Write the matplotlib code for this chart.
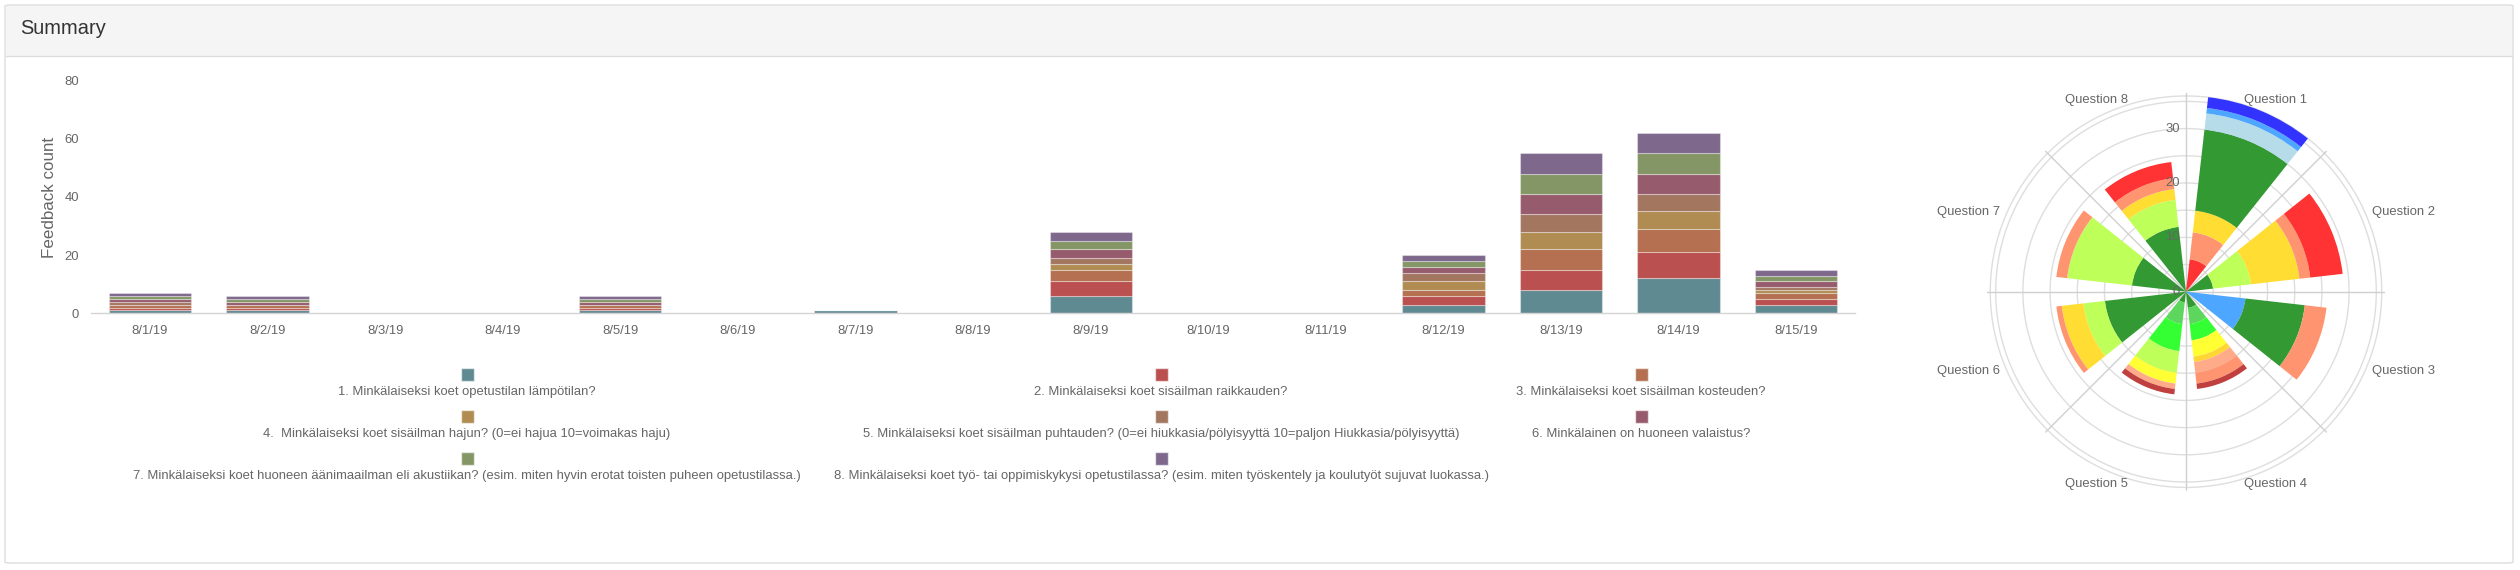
import matplotlib
matplotlib.use('Agg')
import matplotlib.pyplot as plt
import matplotlib.transforms as mtransforms
from matplotlib.patches import Rectangle, FancyBboxPatch
from matplotlib.lines import Line2D
import numpy as np

plt.rcParams['font.family'] = ['Liberation Sans', 'DejaVu Sans']

W, H, DPI = 2520, 570, 100

# ---------------- data ----------------
days = ['8/1/19', '8/2/19', '8/3/19', '8/4/19', '8/5/19', '8/6/19', '8/7/19', '8/8/19',
        '8/9/19', '8/10/19', '8/11/19', '8/12/19', '8/13/19', '8/14/19', '8/15/19']

q1 = [1, 1, 0, 0, 1, 0, 1, 0, 6, 0, 0, 3, 8, 12, 3]
q2 = [1, 1, 0, 0, 1, 0, 0, 0, 5, 0, 0, 3, 7, 9, 2]
q3 = [1, 1, 0, 0, 1, 0, 0, 0, 4, 0, 0, 2, 7, 8, 2]
q4 = [0, 0, 0, 0, 0, 0, 0, 0, 2, 0, 0, 3, 6, 6, 1]
q5 = [1, 0, 0, 0, 0, 0, 0, 0, 2, 0, 0, 3, 6, 6, 1]
q6 = [1, 1, 0, 0, 1, 0, 0, 0, 3, 0, 0, 2, 7, 7, 2]
q7 = [1, 1, 0, 0, 1, 0, 0, 0, 3, 0, 0, 2, 7, 7, 2]
q8 = [1, 1, 0, 0, 1, 0, 0, 0, 3, 0, 0, 2, 7, 7, 2]

legend_labels = [
    '1. Minkälaiseksi koet opetustilan lämpötilan?',
    '2. Minkälaiseksi koet sisäilman raikkauden?',
    '3. Minkälaiseksi koet sisäilman kosteuden?',
    '4.  Minkälaiseksi koet sisäilman hajun? (0=ei hajua 10=voimakas haju)',
    '5. Minkälaiseksi koet sisäilman puhtauden? (0=ei hiukkasia/pölyisyyttä 10=paljon Hiukkasia/pölyisyyttä)',
    '6. Minkälainen on huoneen valaistus?',
    '7. Minkälaiseksi koet huoneen äänimaailman eli akustiikan? (esim. miten hyvin erotat toisten puheen opetustilassa.)',
    '8. Minkälaiseksi koet työ- tai oppimiskykysi opetustilassa? (esim. miten työskentely ja koulutyöt sujuvat luokassa.)',
]

polar_labels = ['Question 1', 'Question 2', 'Question 3', 'Question 4',
                'Question 5', 'Question 6', 'Question 7', 'Question 8']

# answer counts per question, stacked from the centre outwards
p1 = [6, 5, 4, 15, 3, 1, 2]
p2 = [5, 7, 9, 2, 6]
p3 = [11, 11, 4]
p4 = [3, 3, 3, 3, 1, 2, 2, 1]
p5 = [2, 4, 5, 4, 2, 1, 1]
p6 = [15, 4, 4, 1]
p7 = [10, 12, 2]
p8 = [12, 5, 2, 2, 3]

radial_ticks = [0, 10, 20, 30]

# ---------------- styles ----------------
bar_colors = ['#608a92', '#ba5050', '#b47050', '#b08c52',
              '#a37660', '#965c6e', '#849666', '#7e688c']

C = {
    'red': '#ff3333', 'salmon': '#ff9470', 'gold': '#ffdd33', 'dgreen': '#339933',
    'lblue': '#b6dbe9', 'mblue': '#4da6ff', 'dblue': '#3333ff', 'lgreen': '#bfff59',
    'mgreen': '#5cd65c', 'bgreen': '#33ff33', 'yellow': '#ffff33', 'gold2': '#ffd633',
    'lsalmon': '#ffaa88', 'dred': '#c04040',
}
pc1 = ['red', 'salmon', 'gold', 'dgreen', 'lblue', 'mblue', 'dblue']
pc2 = ['dgreen', 'lgreen', 'gold', 'salmon', 'red']
pc3 = ['mblue', 'dgreen', 'salmon']
pc4 = ['dgreen', 'mgreen', 'bgreen', 'yellow', 'gold2', 'lsalmon', 'salmon', 'dred']
pc5 = ['dgreen', 'mgreen', 'bgreen', 'lgreen', 'yellow', 'lsalmon', 'dred']
pc6 = ['dgreen', 'lgreen', 'gold', 'salmon']
pc7 = ['dgreen', 'lgreen', 'salmon']
pc8 = ['dgreen', 'lgreen', 'gold', 'salmon', 'red']

TXT = '#666666'
PX = 72.0 / DPI  # points per pixel


def fx(x):
    return x / W


def fy(y):
    return 1 - y / H


fig = plt.figure(figsize=(W / DPI, H / DPI), dpi=DPI, facecolor='white')

# ---------------- panel frame ----------------
panel = FancyBboxPatch((fx(5), fy(563)), fx(2508), (563 - 5) / H,
                       boxstyle='round,pad=0,rounding_size=0.002',
                       transform=fig.transFigure, facecolor='white',
                       edgecolor='#dddddd', linewidth=1, zorder=0)
fig.add_artist(panel)
fig.add_artist(Rectangle((fx(6), fy(56)), fx(2506), (56 - 6) / H,
                         transform=fig.transFigure, facecolor='#f5f5f5',
                         edgecolor='none', zorder=0.5))
fig.add_artist(Line2D([fx(6), fx(2512)], [fy(56), fy(56)],
                      transform=fig.transFigure, color='#dddddd', lw=1, zorder=0.6))
fig.text(fx(20), fy(29), 'Summary', fontsize=20 * PX, color='#333333',
         ha='left', va='center')

# ---------------- stacked bar chart ----------------
ax = fig.add_axes([fx(91.2), fy(313.4), fx(1855 - 91.2), (313.4 - 80.4) / H])
series = [q1, q2, q3, q4, q5, q6, q7, q8]
x = np.arange(len(days))
bottom = np.zeros(len(days))
for vals, col in zip(series, bar_colors):
    v = np.array(vals, dtype=float)
    ax.bar(x, v, width=0.70, bottom=bottom, color=col,
           edgecolor=(1, 1, 1, 0.35), linewidth=0.8, zorder=2)
    bottom += v
ax.set_xlim(-0.5, len(days) - 0.5)
ax.set_ylim(0, 80)
ax.set_yticks([0, 20, 40, 60, 80])
ax.set_xticks(x)
ax.set_xticklabels(days)
ax.tick_params(axis='both', length=0, labelsize=13 * PX, labelcolor=TXT, pad=12 * PX)
for s in ['top', 'right', 'left']:
    ax.spines[s].set_visible(False)
ax.spines['bottom'].set_color('#d4d4d4')
ax.spines['bottom'].set_linewidth(1)
ax.set_facecolor('none')
fig.text(fx(50), fy(197), 'Feedback count', rotation=90, fontsize=17 * PX,
         color=TXT, ha='center', va='center')

# ---------------- legend (3-column grid) ----------------
col_cx = [467, 1161, 1641]
box_cy = [374, 416, 458]
text_cy = [392, 434, 476]
bs = 13
for i, (lab, col) in enumerate(zip(legend_labels, bar_colors)):
    r, c = divmod(i, 3)
    cx = col_cx[c]
    fig.add_artist(Rectangle((fx(cx - bs / 2), fy(box_cy[r] + bs / 2)), fx(bs), bs / H,
                             transform=fig.transFigure, facecolor=col,
                             edgecolor=(1, 1, 1, 0.6), linewidth=1))
    fig.text(fx(cx), fy(text_cy[r]), lab, fontsize=13 * PX, color=TXT,
             ha='center', va='center')

# ---------------- polar area chart ----------------
cxp, cyp, R = 2186, 291.7, 199
pax = fig.add_axes([fx(cxp - R), fy(cyp + R), fx(2 * R), 2 * R / H], projection='polar')
pax.set_theta_zero_location('N')
pax.set_theta_direction(-1)
rmax = 36.6
pax.set_ylim(0, rmax)
pax.set_yticks([])
pax.set_xticks(np.deg2rad(np.arange(0, 360, 45)))
pax.set_xticklabels([])
pax.grid(axis='x', color='#d0d0d0', linewidth=1)
pax.spines['polar'].set_visible(False)
pax.set_facecolor('none')
pax.set_axisbelow(True)

tt = np.linspace(0, 2 * np.pi, 600)
for rr in [5, 10, 15, 20, 25, 30, 35, 36]:
    pax.plot(tt, np.full_like(tt, rr), color='#dedede', lw=1, zorder=0.5)

pvals = [p1, p2, p3, p4, p5, p6, p7, p8]
pcols = [pc1, pc2, pc3, pc4, pc5, pc6, pc7, pc8]
for k, (vals, cols) in enumerate(zip(pvals, pcols)):
    th = np.deg2rad(22.5 + 45 * k)
    b = 0
    for v, cname in zip(vals, cols):
        pax.bar(th, v, width=np.deg2rad(32), bottom=b, color=C[cname],
                linewidth=0, zorder=2)
        b += v

off = mtransforms.offset_copy(pax.transData, fig=fig, x=-6, y=0, units='dots')
for v in radial_ticks:
    pax.text(0, v, str(v), transform=off, ha='right', va='center',
             fontsize=13 * PX, color=TXT, zorder=3)

for k, lab in enumerate(polar_labels):
    base = 22.5 + 45 * k
    s = 1 if (base % 180) < 90 else -1
    ang = base + 2.5 * s
    near_vertical = k in (0, 3, 4, 7)
    rr = 39.0 if near_vertical else 42.6
    pax.text(np.deg2rad(ang), rr, lab, ha='center', va='center',
             fontsize=13 * PX, color=TXT, clip_on=False)

fig.savefig('out.png', dpi=DPI, facecolor='white')
